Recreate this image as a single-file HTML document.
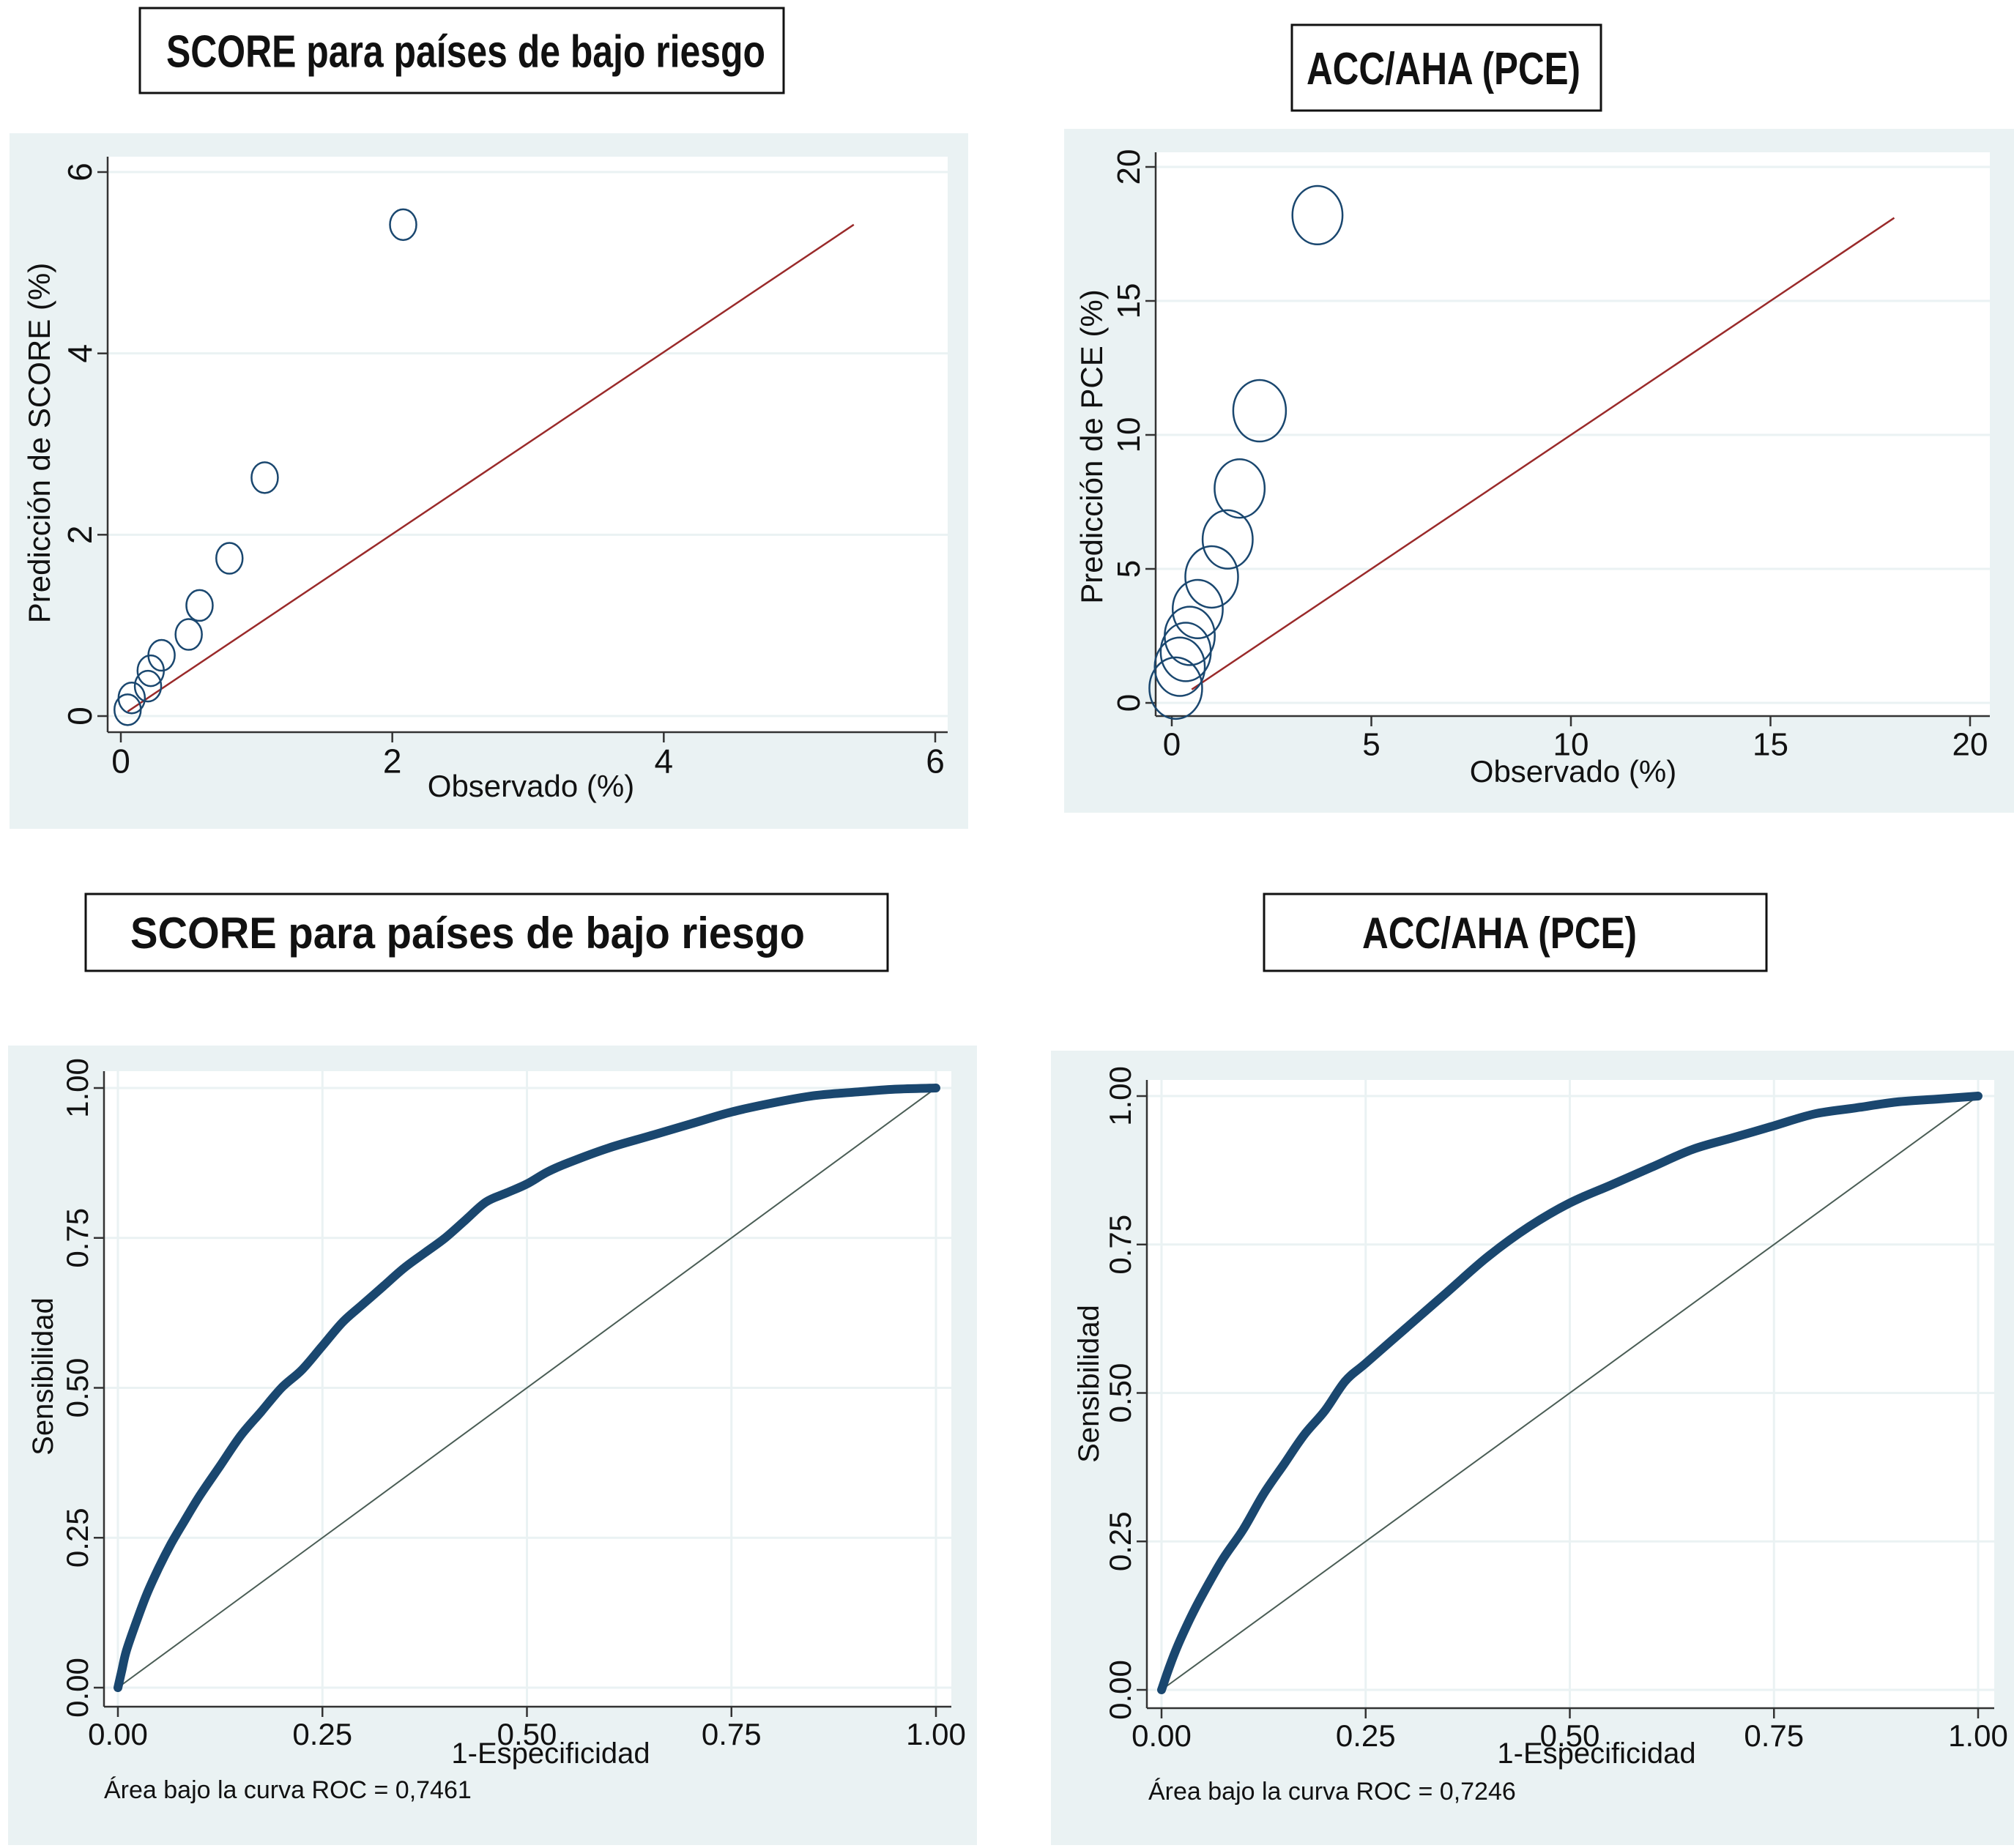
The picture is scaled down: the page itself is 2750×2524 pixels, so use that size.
<!DOCTYPE html>
<html><head><meta charset="utf-8"><style>
html,body{margin:0;padding:0;background:#fff}
svg{display:block;font-family:"Liberation Sans",sans-serif}
</style></head><body>
<svg id="s" width="2750" height="2524" viewBox="0 0 2750 2524" xmlns="http://www.w3.org/2000/svg"></svg>
<script>
// ---- data ----
const scoreObs = [0.05, 0.08, 0.2, 0.22, 0.3, 0.5, 0.58, 0.8, 1.06, 2.08];
const scorePred = [0.07, 0.2, 0.33, 0.5, 0.67, 0.9, 1.22, 1.74, 2.63, 5.42];
const scoreTicks = [0, 2, 4, 6];
const pceObs = [0.1, 0.2, 0.35, 0.45, 0.65, 1.0, 1.4, 1.7, 2.2, 3.65];
const pcePred = [0.55, 1.35, 1.9, 2.5, 3.5, 4.7, 6.1, 8.0, 10.9, 18.2];
const pceSize = [1.0, 0.95, 0.95, 0.95, 0.95, 1.0, 0.95, 0.95, 1.0, 0.95];
const pceTicks = [0, 5, 10, 15, 20];
const roc1X = [0,0.005,0.01,0.02,0.035,0.05,0.065,0.08,0.1,0.125,0.15,0.175,0.2,0.225,0.25,0.275,0.3,0.325,0.35,0.375,0.4,0.425,0.45,0.475,0.5,0.525,0.55,0.6,0.65,0.7,0.75,0.8,0.85,0.9,0.95,1];
const roc1Y = [0,0.03,0.06,0.1,0.155,0.2,0.24,0.275,0.32,0.37,0.42,0.46,0.5,0.53,0.57,0.61,0.64,0.67,0.7,0.725,0.75,0.78,0.81,0.825,0.84,0.86,0.875,0.9,0.92,0.94,0.96,0.975,0.987,0.993,0.998,1];
const roc2X = [0,0.01,0.02,0.035,0.05,0.075,0.1,0.125,0.15,0.175,0.2,0.225,0.25,0.3,0.35,0.4,0.45,0.5,0.55,0.6,0.65,0.7,0.75,0.8,0.85,0.9,0.95,1];
const roc2Y = [0,0.04,0.075,0.12,0.16,0.22,0.27,0.33,0.38,0.43,0.47,0.52,0.55,0.61,0.67,0.73,0.78,0.82,0.85,0.88,0.91,0.93,0.95,0.97,0.98,0.99,0.995,1];
const rocTicks = [0, 0.25, 0.5, 0.75, 1];
const rocTickLabels = ["0.00","0.25","0.50","0.75","1.00"];

const NS = "http://www.w3.org/2000/svg";
const svg = document.getElementById('s');
function el(tag, attrs, parent, text){
  const e = document.createElementNS(NS, tag);
  for (const k in attrs) e.setAttribute(k, attrs[k]);
  if (text !== undefined) e.textContent = text;
  (parent || svg).appendChild(e);
  return e;
}
function scale(d0,d1,r0,r1){ return v => r0 + (v-d0)/(d1-d0)*(r1-r0); }

function titleBox(x,y,w,h,text,fs,tx,tl,name){
  const g = el('g',{});
  
  
  el('rect',{x:x,y:y,width:w,height:h,fill:'#fff',stroke:'#111','stroke-width':3},g);
  const t = el('text',{x:tx,y:y+h/2+fs*0.36,'font-size':fs,'font-weight':'bold',fill:'#111',textLength:tl,lengthAdjust:'spacingAndGlyphs'},g,text);
  
  
}

function panel(cfg){
  const g = el('g',{});
  
  
  const bg = el('rect',{x:cfg.bg[0],y:cfg.bg[1],width:cfg.bg[2]-cfg.bg[0],height:cfg.bg[3]-cfg.bg[1],fill:'#eaf2f3'},g);
  
  
  const pa = el('rect',{x:cfg.white[0],y:cfg.white[1],width:cfg.white[2]-cfg.white[0],height:cfg.white[3]-cfg.white[1],fill:'#fff'},g);
  
  
  const X = scale(cfg.ticks[0], cfg.ticks[cfg.ticks.length-1], cfg.xr[0], cfg.xr[1]);
  const Y = scale(cfg.ticks[0], cfg.ticks[cfg.ticks.length-1], cfg.yr[0], cfg.yr[1]);
  const ax = cfg.white[0], ay = cfg.white[3];
  cfg.ticks.forEach(t=>{
    const gl = el('line',{x1:ax,x2:cfg.white[2],y1:Y(t),y2:Y(t),stroke:'#eaf2f3','stroke-width':3},g);
    
    
    if (cfg.vgrid){
      const vl = el('line',{x1:X(t),x2:X(t),y1:cfg.white[1],y2:ay,stroke:'#eaf2f3','stroke-width':3},g);
      
      
    }
  });
  const yaxis = el('line',{x1:ax,x2:ax,y1:cfg.white[1],y2:ay,stroke:'#333','stroke-width':2.5},g);
  
  
  const xaxis = el('line',{x1:ax,x2:cfg.white[2],y1:ay,y2:ay,stroke:'#333','stroke-width':2.5},g);
  
  
  cfg.ticks.forEach((t,i)=>{
    const lab = cfg.labels ? cfg.labels[i] : String(t);
    el('line',{x1:X(t),x2:X(t),y1:ay,y2:ay+14,stroke:'#333','stroke-width':2.5},g);
    const xt = el('text',{x:X(t),y:ay+14+cfg.fs*0.9,'font-size':cfg.fs,'text-anchor':'middle',fill:'#111'},g,lab);
    
    
    el('line',{x1:ax-14,x2:ax,y1:Y(t),y2:Y(t),stroke:'#333','stroke-width':2.5},g);
    const yx = ax-22, yy = Y(t);
    const yt = el('text',{x:yx,y:yy,'font-size':cfg.fs,'text-anchor':'middle',fill:'#111',transform:`rotate(-90 ${yx} ${yy})`},g,lab);
    
    
  });
  const xtl = el('text',{x:cfg.xtitle[1],y:cfg.xtitle[2],'font-size':cfg.tfs,'text-anchor':'middle',fill:'#111'},g,cfg.xtitle[0]);
  
  
  const yl = el('text',{x:cfg.ytitle[1],y:cfg.ytitle[2],'font-size':cfg.tfs,'text-anchor':'middle',fill:'#111',transform:`rotate(-90 ${cfg.ytitle[1]} ${cfg.ytitle[2]})`},g,cfg.ytitle[0]);
  
  
  return {g,X,Y};
}

titleBox(191,11,879,116,'SCORE para países de bajo riesgo',62,227,818,'title-score-calibration');
titleBox(1764,34,422,117,'ACC/AHA (PCE)',62,1784,374,'title-pce-calibration');
titleBox(117,1221,1095,105,'SCORE para países de bajo riesgo',60,178,921,'title-score-roc');
titleBox(1726,1221,686,105,'ACC/AHA (PCE)',60,1860,375,'title-pce-roc');

let p = panel({name:'score-calibration-chart',bg:[13,182,1322,1132],white:[147,214,1294,1000],ticks:scoreTicks,
  xr:[165,1277],yr:[978,235],fs:46,tfs:42,xtitle:['Observado (%)',725,1088],ytitle:['Predicción de SCORE (%)',68,605],vgrid:false});
(function(){
  const l = el('line',{x1:p.X(0.05),y1:p.Y(0.05),x2:p.X(5.4),y2:p.Y(5.42),stroke:'#9a2a2a','stroke-width':2.5},p.g);
  
  
  scoreObs.forEach((v,i)=>{
    const c = el('ellipse',{cx:p.X(v),cy:p.Y(scorePred[i]),rx:18,ry:21,fill:'none',stroke:'#1a476f','stroke-width':2.5},p.g);
    
    
  });
})();

p = panel({name:'pce-calibration-chart',bg:[1453,176,2750,1110],white:[1578,208,2717,978],ticks:pceTicks,
  xr:[1600,2690],yr:[960,228],fs:44,tfs:42,xtitle:['Observado (%)',2148,1068],ytitle:['Predicción de PCE (%)',1505,610],vgrid:false});
(function(){
  const l = el('line',{x1:p.X(0.5),y1:p.Y(0.5),x2:p.X(18.1),y2:p.Y(18.1),stroke:'#9a2a2a','stroke-width':2.5},p.g);
  
  
  pceObs.forEach((v,i)=>{
    const c = el('ellipse',{cx:p.X(v),cy:p.Y(pcePred[i]),rx:36*pceSize[i],ry:42*pceSize[i],fill:'none',stroke:'#1a476f','stroke-width':2.5},p.g);
    
    
  });
})();

function smoothPath(px, py){
  let d = `M${px[0].toFixed(1)},${py[0].toFixed(1)}`;
  for (let i=0;i<px.length-1;i++){
    const i0=Math.max(0,i-1), i2=i+1, i3=Math.min(px.length-1,i+2);
    const c1x=px[i]+(px[i2]-px[i0])/6, c1y=py[i]+(py[i2]-py[i0])/6;
    const c2x=px[i2]-(px[i3]-px[i])/6, c2y=py[i2]-(py[i3]-py[i])/6;
    d += ` C${c1x.toFixed(1)},${c1y.toFixed(1)} ${c2x.toFixed(1)},${c2y.toFixed(1)} ${px[i2].toFixed(1)},${py[i2].toFixed(1)}`;
  }
  return d;
}
function roc(cfg, xs, ys, auc){
  const q = panel(cfg);
  const d = el('line',{x1:q.X(0),y1:q.Y(0),x2:q.X(1),y2:q.Y(1),stroke:'#4a5d55','stroke-width':2},q.g);
  
  
  const c = el('path',{d:smoothPath(xs.map(q.X), ys.map(q.Y)),fill:'none',stroke:'#1a476f','stroke-width':12,'stroke-linejoin':'round','stroke-linecap':'round'},q.g);
  
  
  const a = el('text',{x:cfg.auc[0],y:cfg.auc[1],'font-size':34,fill:'#111'},q.g,auc);
  
  
}
roc({name:'score-roc-chart',bg:[11,1428,1334,2520],white:[142,1463,1299,2331],ticks:rocTicks,labels:rocTickLabels,
  xr:[161,1278],yr:[2305,1486],fs:42,tfs:40,vgrid:true,xtitle:['1-Especificidad',752,2408],ytitle:['Sensibilidad',72,1880],auc:[142,2456]},
  roc1X, roc1Y, 'Área bajo la curva ROC = 0,7461');
roc({name:'pce-roc-chart',bg:[1435,1435,2750,2520],white:[1566,1475,2723,2333],ticks:rocTicks,labels:rocTickLabels,
  xr:[1586,2701],yr:[2308,1497],fs:42,tfs:40,vgrid:true,xtitle:['1-Especificidad',2180,2408],ytitle:['Sensibilidad',1500,1890],auc:[1568,2458]},
  roc2X, roc2Y, 'Área bajo la curva ROC = 0,7246');
</script>
</body></html>
